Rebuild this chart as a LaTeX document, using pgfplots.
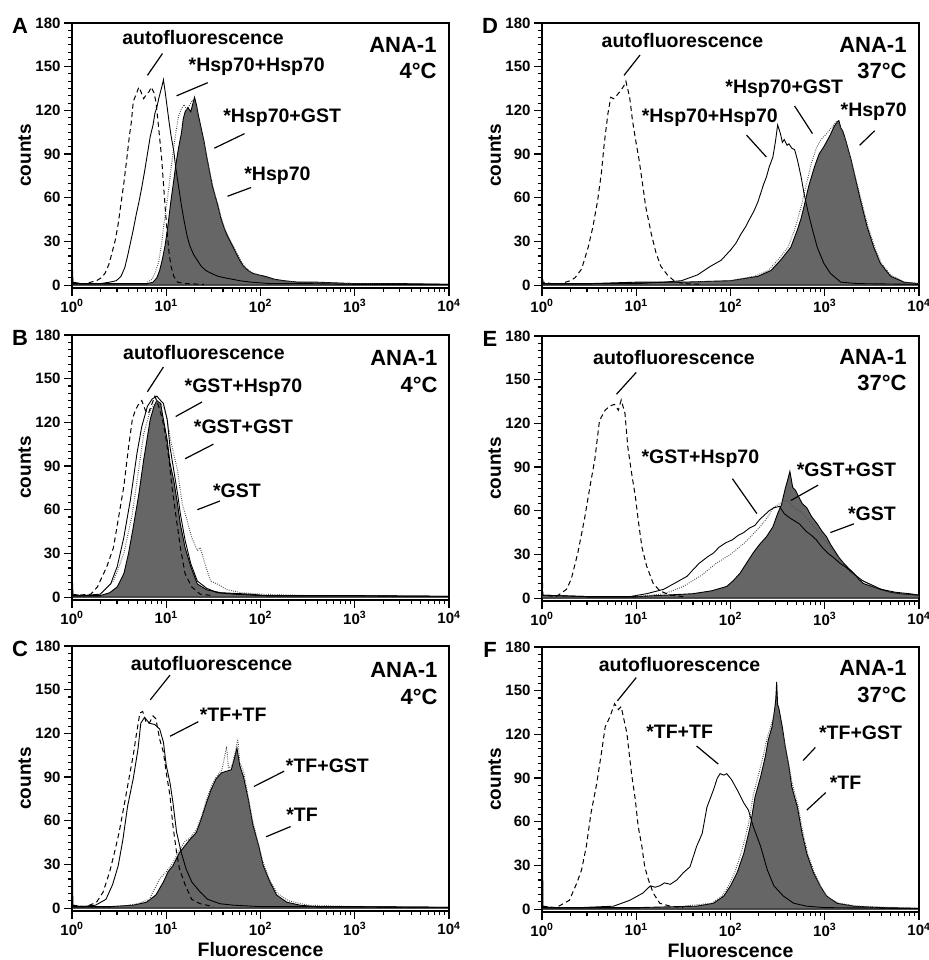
\documentclass[border=0pt]{standalone}
\usepackage{fontspec}
\setmainfont{Liberation Sans}
\usepackage{pgfplots}
\pgfplotsset{compat=1.18}
\definecolor{fillgray}{RGB}{102,102,102}
\newcommand{\fs}[1]{\fontsize{#1}{#1}\selectfont}

% x values are log10(fluorescence)
\pgfplotsset{
  facs/.style={
    scale only axis, width=377pt, height=265pt,
    xmin=0, xmax=4, ymin=-2, ymax=180, clip=false,
    axis line style={line width=1.3pt},
    tick align=outside, tick pos=left,
    xtick={0,1,2,3,4},
    xticklabels={10\textsuperscript{0},10\textsuperscript{1},10\textsuperscript{2},10\textsuperscript{3},10\textsuperscript{4}},
    minor xtick={0.301,0.477,0.602,0.699,0.778,0.845,0.903,0.954,
                 1.301,1.477,1.602,1.699,1.778,1.845,1.903,1.954,
                 2.301,2.477,2.602,2.699,2.778,2.845,2.903,2.954,
                 3.301,3.477,3.602,3.699,3.778,3.845,3.903,3.954},
    ytick={0,30,60,90,120,150,180},
    yticklabels={0,30,60,90,120,150,180},
    minor y tick num=5,
    major tick length=8pt, minor tick length=4.5pt,
    tick style={black, line width=1.1pt},
    ticklabel style={font=\bfseries\fs{15}},
    ylabel={counts},
    every axis y label/.style={at={(axis description cs:-0.125,0.5)}, rotate=90, anchor=center, font=\bfseries\fs{19}},
    every axis x label/.style={at={(axis description cs:0.5,-0.146)}, anchor=center, font=\bfseries\fs{19.5}},
  },
  auto/.style={black, line width=1pt, dash pattern=on 5pt off 3.5pt},
  comp/.style={black, line width=0.9pt},
  ctrl/.style={black!70, line width=1pt, dash pattern=on 0.8pt off 1.4pt},
  bind/.style={draw=black, line width=0.9pt, fill=fillgray},
}
\tikzset{
  lbl/.style={font=\bfseries\fs{19.5}, inner sep=0pt},
  cell/.style={font=\bfseries\fs{22}, inner sep=0pt, anchor=east},
  pan/.style={font=\bfseries\fs{22}, inner sep=0pt},
  lead/.style={black, line width=1.2pt},
}

\begin{document}
\begin{tikzpicture}
\useasboundingbox (0,0) rectangle (928pt,960pt);

% ---------------- A ----------------
\begin{axis}[facs, at={(72pt,937pt)}, anchor=north west]
\addplot[bind] coordinates {(0.00,1)(0.30,1)(0.60,1)(0.80,1)(0.86,2)(0.90,5)(0.93,10)(0.96,18)(0.99,28)(1.02,42)(1.05,58)(1.08,72)(1.10,82)(1.13,94)(1.16,104)(1.18,114)(1.20,119)(1.23,122)(1.26,119)(1.28,124)(1.30,129)(1.32,124)(1.34,117)(1.37,108)(1.40,99)(1.43,88)(1.46,78)(1.49,68)(1.52,61)(1.55,54)(1.58,46)(1.61,40)(1.64,35)(1.67,31)(1.71,26)(1.74,22)(1.78,17)(1.82,13)(1.87,10)(1.92,8)(1.98,7)(2.05,6)(2.15,4)(2.25,3)(2.40,2)(2.60,2)(2.80,1.5)(3.00,1)(3.50,1)(4.00,0.5)} \closedcycle;
\addplot[ctrl] coordinates {(0.80,2)(0.85,4)(0.88,8)(0.92,16)(0.95,28)(0.98,44)(1.01,58)(1.04,74)(1.07,90)(1.10,104)(1.13,116)(1.16,121)(1.19,124)(1.22,120)(1.25,124)(1.28,127)(1.31,124)(1.34,115)(1.37,106)(1.40,98)(1.43,88)(1.46,78)(1.49,69)(1.52,61)(1.55,55)(1.58,47)(1.61,41)(1.64,36)(1.67,32)(1.71,27)(1.75,22)(1.79,17)(1.84,12)(1.90,9)(1.97,7)(2.05,5)(2.20,3)(2.40,2)(3.00,1)(4.00,0.5)};
\addplot[comp] coordinates {(0.00,22)(0.01,2)(0.10,1)(0.20,1)(0.30,1)(0.40,2)(0.47,3)(0.52,6)(0.56,12)(0.59,20)(0.62,29)(0.65,38)(0.68,48)(0.71,57)(0.74,67)(0.77,78)(0.80,90)(0.83,102)(0.86,110)(0.88,118)(0.90,122)(0.92,128)(0.94,133)(0.96,138)(0.97,141)(0.99,132)(1.01,122)(1.03,112)(1.05,103)(1.08,92)(1.10,81)(1.13,68)(1.16,55)(1.19,44)(1.22,34)(1.25,27)(1.29,21)(1.33,17)(1.37,13)(1.42,10)(1.48,8)(1.55,6)(1.62,5)(1.70,4)(1.78,3)(1.90,2)(2.10,1)(2.50,1)(3.00,0.5)(4.00,0.5)};
\addplot[auto] coordinates {(0.00,2)(0.05,1)(0.10,1)(0.15,1)(0.20,2)(0.26,3)(0.31,5)(0.35,8)(0.39,14)(0.42,21)(0.46,31)(0.49,42)(0.52,56)(0.55,70)(0.58,86)(0.61,103)(0.63,112)(0.65,126)(0.68,131)(0.71,136)(0.73,133)(0.76,128)(0.79,131)(0.82,133)(0.84,136)(0.87,132)(0.89,126)(0.91,114)(0.93,101)(0.95,88)(0.97,70)(0.99,52)(1.01,36)(1.03,22)(1.05,13)(1.08,6)(1.12,2)(1.20,1)(1.40,0.5)};
\node[pan] at (axis description cs:-0.138,0.99) {A};
\node[lbl] at (axis cs:1.39,170) {autofluorescence};
\draw[lead] (axis cs:0.96,159) -- (axis cs:0.80,144);
\node[lbl] at (axis cs:1.96,150) {*Hsp70+Hsp70};
\draw[lead] (axis cs:1.44,139) -- (axis cs:1.11,130);
\node[lbl] at (axis cs:2.23,115) {*Hsp70+GST};
\draw[lead] (axis cs:1.83,104) -- (axis cs:1.51,94);
\node[lbl] at (axis cs:2.18,75) {*Hsp70};
\draw[lead] (axis cs:1.90,67) -- (axis cs:1.65,61);
\node[cell] at (axis cs:3.87,165) {ANA-1};
\node[cell] at (axis cs:3.87,147) {4°C};
\end{axis}

% ---------------- D ----------------
\begin{axis}[facs, at={(542pt,937pt)}, anchor=north west]
\addplot[bind] coordinates {(0.00,1)(0.50,1)(1.00,2)(1.50,2)(2.00,3)(2.29,6)(2.43,10)(2.53,17)(2.64,26)(2.71,38)(2.75,46)(2.78,54)(2.83,68)(2.89,81)(2.94,90)(2.99,95)(3.05,102)(3.10,109)(3.13,112)(3.15,113)(3.17,108)(3.19,106)(3.22,100)(3.25,93)(3.28,86)(3.33,72)(3.38,58)(3.45,40)(3.52,26)(3.59,15)(3.65,10)(3.70,6)(3.84,2)(4.00,1)} \closedcycle;
\addplot[ctrl] coordinates {(1.50,2)(2.00,3)(2.25,6)(2.40,10)(2.50,17)(2.61,26)(2.68,38)(2.75,54)(2.80,68)(2.86,84)(2.91,94)(2.96,100)(3.02,104)(3.07,108)(3.12,112)(3.15,110)(3.18,106)(3.22,99)(3.26,90)(3.30,80)(3.35,68)(3.40,55)(3.46,40)(3.53,26)(3.60,15)(3.70,7)(3.85,2)(4.00,1)};
\addplot[comp] coordinates {(0.00,1)(0.50,1)(1.00,1)(1.30,2)(1.48,3)(1.65,7)(1.79,13)(1.90,17)(2.00,24)(2.06,29)(2.11,35)(2.16,40)(2.20,45)(2.25,51)(2.29,57)(2.32,63)(2.35,69)(2.38,74)(2.41,81)(2.45,88)(2.48,100)(2.50,110)(2.53,104)(2.55,98)(2.57,100)(2.60,96)(2.62,97)(2.65,94)(2.68,93)(2.71,86)(2.75,74)(2.78,63)(2.82,51)(2.87,38)(2.92,26)(2.99,15)(3.06,8)(3.17,2)(3.35,1)(4.00,0.5)};
\addplot[auto] coordinates {(0.00,10)(0.01,2)(0.10,1)(0.20,1)(0.30,3)(0.35,5)(0.42,11)(0.49,26)(0.54,40)(0.59,58)(0.63,77)(0.66,97)(0.70,118)(0.73,129)(0.76,128)(0.79,130)(0.84,134)(0.87,137)(0.89,140)(0.93,129)(0.96,113)(1.00,97)(1.03,86)(1.07,68)(1.10,54)(1.16,35)(1.21,22)(1.26,13)(1.33,7)(1.40,3)(1.50,1)(1.70,0.5)};
\node[pan] at (axis description cs:-0.138,0.99) {D};
\node[lbl] at (axis cs:1.49,168) {autofluorescence};
\draw[lead] (axis cs:1.04,158) -- (axis cs:0.87,144);
\node[lbl] at (axis cs:2.57,134.6) {*Hsp70+GST};
\draw[lead] (axis cs:2.68,123) -- (axis cs:2.87,104);
\node[lbl] at (axis cs:1.78,115) {*Hsp70+Hsp70};
\draw[lead] (axis cs:2.17,103) -- (axis cs:2.38,88);
\node[lbl] at (axis cs:3.52,119) {*Hsp70};
\draw[lead] (axis cs:3.53,106) -- (axis cs:3.37,96);
\node[cell] at (axis cs:3.87,165) {ANA-1};
\node[cell] at (axis cs:3.87,147) {37°C};
\end{axis}

% ---------------- B ----------------
\begin{axis}[facs, at={(72pt,625pt)}, anchor=north west]
\addplot[bind] coordinates {(0.00,1)(0.30,1)(0.40,3)(0.48,7)(0.55,16)(0.60,30)(0.65,48)(0.71,71)(0.76,94)(0.80,110)(0.83,122)(0.87,131)(0.90,135)(0.94,133)(0.97,122)(1.01,108)(1.04,92)(1.08,80)(1.12,64)(1.15,50)(1.20,34)(1.26,21)(1.33,9)(1.43,5)(1.58,3)(1.89,2)(2.07,1)(2.50,1)(3.00,1)(4.00,0.5)} \closedcycle;
\addplot[ctrl] coordinates {(0.30,2)(0.44,11)(0.55,30)(0.64,57)(0.71,89)(0.76,112)(0.83,128)(0.90,135)(0.97,131)(1.01,122)(1.04,110)(1.08,98)(1.12,87)(1.17,64)(1.22,53)(1.27,41)(1.33,32)(1.36,34)(1.42,21)(1.47,11)(1.54,9)(1.65,5)(1.80,3)(2.00,2)(2.50,1)(4.00,0.5)};
\addplot[comp] coordinates {(0.00,20)(0.01,2)(0.10,1)(0.30,2)(0.41,9)(0.48,21)(0.55,41)(0.62,67)(0.69,99)(0.74,117)(0.80,131)(0.85,136)(0.90,138)(0.94,135)(0.97,133)(1.01,122)(1.04,103)(1.08,87)(1.12,71)(1.15,57)(1.20,39)(1.26,23)(1.33,11)(1.43,6)(1.54,3)(1.72,2)(2.00,1)(3.00,1)(4.00,0.5)};
\addplot[auto] coordinates {(0.00,1)(0.20,2)(0.27,7)(0.37,21)(0.44,34)(0.50,57)(0.55,76)(0.60,103)(0.64,122)(0.67,128)(0.71,133)(0.74,135)(0.78,128)(0.81,126)(0.85,133)(0.88,138)(0.92,131)(0.96,122)(0.99,112)(1.03,94)(1.06,76)(1.10,57)(1.15,34)(1.20,16)(1.27,7)(1.36,2)(1.50,1)};
\node[pan] at (axis description cs:-0.138,0.99) {B};
\node[lbl] at (axis cs:1.40,168) {autofluorescence};
\draw[lead] (axis cs:0.97,158) -- (axis cs:0.80,141);
\node[lbl] at (axis cs:1.82,143.5) {*GST+Hsp70};
\draw[lead] (axis cs:1.38,134) -- (axis cs:1.10,124);
\node[lbl] at (axis cs:1.82,117) {*GST+GST};
\draw[lead] (axis cs:1.50,105) -- (axis cs:1.20,95);
\node[lbl] at (axis cs:1.75,73) {*GST};
\draw[lead] (axis cs:1.57,66) -- (axis cs:1.33,60);
\node[cell] at (axis cs:3.88,164) {ANA-1};
\node[cell] at (axis cs:3.88,146) {4°C};
\end{axis}

% ---------------- E ----------------
\begin{axis}[facs, at={(542pt,624pt)}, anchor=north west]
\addplot[bind] coordinates {(0.00,2)(0.50,1)(1.00,1)(1.30,2)(1.60,3)(1.80,5)(1.96,8)(2.03,12)(2.10,17)(2.17,24)(2.24,31)(2.31,37)(2.38,42)(2.45,49)(2.50,58)(2.54,64)(2.58,75)(2.61,82)(2.63,87)(2.66,76)(2.69,74)(2.72,70)(2.76,65)(2.81,62)(2.86,56)(2.92,51)(2.97,46)(3.02,42)(3.06,37)(3.10,33)(3.15,28)(3.20,24)(3.26,20)(3.31,17)(3.36,13)(3.41,10)(3.50,8)(3.59,6)(3.70,4)(3.80,3)(4.00,2)} \closedcycle;
\addplot[ctrl] coordinates {(1.00,1)(1.30,3)(1.50,8)(1.70,16)(1.85,24)(2.00,30)(2.15,38)(2.30,48)(2.40,56)(2.45,62)(2.50,64)(2.55,66)(2.60,67)(2.65,64)(2.70,61)(2.75,59)(2.85,52)(2.95,44)(3.05,36)(3.15,27)(3.25,19)(3.35,14)(3.50,8)(3.70,4)(4.00,2)};
\addplot[comp] coordinates {(0.00,2)(0.50,1)(0.93,1)(1.11,3)(1.29,6)(1.43,11)(1.54,15)(1.61,20)(1.67,24)(1.75,28)(1.82,31)(1.88,35)(1.95,38)(2.02,40)(2.08,43)(2.14,45)(2.20,48)(2.26,50)(2.31,54)(2.36,57)(2.41,60)(2.46,62)(2.52,63)(2.57,58)(2.63,55)(2.68,53)(2.73,51)(2.80,46)(2.86,43)(2.91,40)(2.97,35)(3.03,31)(3.09,28)(3.16,24)(3.23,21)(3.30,17)(3.40,12)(3.50,9)(3.60,6)(3.75,4)(3.90,3)(4.00,2)};
\addplot[auto] coordinates {(0.00,22)(0.01,2)(0.15,1)(0.26,6)(0.31,13)(0.38,31)(0.45,54)(0.51,77)(0.56,95)(0.61,122)(0.67,129)(0.72,132)(0.77,133)(0.81,129)(0.84,136)(0.88,127)(0.91,104)(0.95,86)(0.99,70)(1.02,54)(1.06,35)(1.11,22)(1.18,10)(1.25,5)(1.36,2)(1.50,1)};
\node[pan] at (axis description cs:-0.138,0.99) {E};
\node[lbl] at (axis cs:1.40,165.5) {autofluorescence};
\draw[lead] (axis cs:1.00,155) -- (axis cs:0.79,140);
\node[lbl] at (axis cs:1.68,96) {*GST+Hsp70};
\draw[lead] (axis cs:2.02,82) -- (axis cs:2.28,58);
\node[lbl] at (axis cs:3.23,88) {*GST+GST};
\draw[lead] (axis cs:2.93,77.6) -- (axis cs:2.64,67);
\node[lbl] at (axis cs:3.50,58) {*GST};
\draw[lead] (axis cs:3.31,51) -- (axis cs:3.06,45);
\node[cell] at (axis cs:3.87,165.5) {ANA-1};
\node[cell] at (axis cs:3.87,147.6) {37°C};
\end{axis}

% ---------------- C ----------------
\begin{axis}[facs, at={(72pt,314pt)}, anchor=north west, xlabel={Fluorescence}]
\addplot[bind] coordinates {(0.00,1)(0.40,1)(0.65,2)(0.79,4)(0.89,9)(0.97,18)(1.02,25)(1.07,29)(1.14,38)(1.20,43)(1.25,47)(1.32,52)(1.37,61)(1.43,73)(1.48,82)(1.53,89)(1.59,93)(1.64,94)(1.69,95)(1.72,102)(1.75,110)(1.78,98)(1.82,90)(1.87,75)(1.92,57)(1.98,43)(2.03,29)(2.10,18)(2.17,9)(2.28,4)(2.42,2)(2.60,1)(3.00,1)(4.00,0.5)} \closedcycle;
\addplot[ctrl] coordinates {(0.50,1)(0.70,3)(0.82,6)(0.93,20)(1.00,25)(1.07,31)(1.14,40)(1.20,46)(1.25,48)(1.32,54)(1.37,62)(1.43,75)(1.48,84)(1.53,90)(1.59,95)(1.62,104)(1.64,111)(1.66,96)(1.70,98)(1.74,110)(1.76,116)(1.78,100)(1.82,94)(1.86,80)(1.91,62)(1.97,46)(2.03,31)(2.10,19)(2.18,10)(2.30,5)(2.50,2)(3.00,1)(4.00,0.5)};
\addplot[comp] coordinates {(0.00,43)(0.01,2)(0.10,1)(0.25,2)(0.36,6)(0.43,16)(0.49,29)(0.54,47)(0.59,70)(0.65,89)(0.70,109)(0.73,127)(0.77,131)(0.82,127)(0.88,126)(0.93,123)(0.97,114)(1.00,98)(1.04,86)(1.07,73)(1.11,52)(1.16,38)(1.21,27)(1.27,18)(1.36,11)(1.44,6)(1.57,3)(1.71,2)(2.00,1)(3.00,1)(4.00,0.5)};
\addplot[auto] coordinates {(0.00,2)(0.15,1)(0.26,4)(0.33,11)(0.40,25)(0.45,38)(0.50,52)(0.56,73)(0.61,91)(0.65,105)(0.68,118)(0.72,134)(0.75,135)(0.79,127)(0.82,127)(0.86,132)(0.89,130)(0.93,116)(0.97,107)(1.00,93)(1.04,77)(1.07,57)(1.11,38)(1.14,27)(1.20,16)(1.27,6)(1.36,3)(1.50,1)};
\node[pan] at (axis description cs:-0.138,0.99) {C};
\node[lbl] at (axis cs:1.48,168) {autofluorescence};
\draw[lead] (axis cs:1.04,160) -- (axis cs:0.83,143);
\node[lbl] at (axis cs:1.71,133) {*TF+TF};
\draw[lead] (axis cs:1.34,128) -- (axis cs:1.04,118);
\node[lbl] at (axis cs:2.71,98) {*TF+GST};
\draw[lead] (axis cs:2.25,94) -- (axis cs:1.93,83.5);
\node[lbl] at (axis cs:2.44,64) {*TF};
\draw[lead] (axis cs:2.32,56) -- (axis cs:2.06,49);
\node[cell] at (axis cs:3.88,163.5) {ANA-1};
\node[cell] at (axis cs:3.88,145) {4°C};
\end{axis}

% ---------------- F ----------------
\begin{axis}[facs, at={(542pt,313pt)}, anchor=north west, xlabel={Fluorescence}]
\addplot[bind] coordinates {(0.00,1)(0.50,1)(1.00,1)(1.64,2)(1.82,4)(1.93,9)(2.00,16)(2.07,25)(2.14,38)(2.21,57)(2.26,77)(2.32,91)(2.37,105)(2.40,116)(2.44,125)(2.47,138)(2.48,144)(2.49,156)(2.50,140)(2.51,139)(2.55,125)(2.58,112)(2.62,98)(2.65,84)(2.71,70)(2.76,52)(2.81,38)(2.88,25)(2.95,16)(3.02,9)(3.13,4)(3.31,2)(3.60,1)(4.00,0.5)} \closedcycle;
\addplot[ctrl] coordinates {(1.50,2)(1.80,4)(1.91,9)(1.98,16)(2.05,26)(2.12,40)(2.19,58)(2.24,78)(2.30,93)(2.35,106)(2.39,118)(2.43,126)(2.47,135)(2.50,132)(2.54,124)(2.58,112)(2.62,98)(2.66,85)(2.72,70)(2.77,52)(2.82,38)(2.89,25)(2.96,15)(3.03,8)(3.15,4)(3.35,2)(4.00,0.5)};
\addplot[comp] coordinates {(0.00,112)(0.01,2)(0.10,1)(0.40,1)(0.76,2)(0.93,6)(1.07,11)(1.15,16)(1.20,15)(1.25,16)(1.30,18)(1.36,17)(1.43,20)(1.50,25)(1.57,29)(1.64,43)(1.70,52)(1.75,70)(1.82,82)(1.86,90)(1.89,93)(1.93,92)(1.96,93)(2.01,89)(2.07,82)(2.14,73)(2.19,68)(2.24,57)(2.32,43)(2.39,27)(2.46,16)(2.56,9)(2.67,4)(2.81,2)(3.00,1)(4.00,0.5)};
\addplot[auto] coordinates {(0.00,2)(0.15,1)(0.29,6)(0.37,18)(0.42,27)(0.47,43)(0.52,66)(0.58,86)(0.63,107)(0.67,125)(0.72,132)(0.77,141)(0.81,137)(0.84,139)(0.90,121)(0.95,93)(0.99,75)(1.02,57)(1.06,43)(1.09,29)(1.13,20)(1.18,11)(1.25,4)(1.36,2)(1.50,1)};
\node[pan] at (axis description cs:-0.138,0.99) {F};
\node[lbl] at (axis cs:1.46,168) {autofluorescence};
\draw[lead] (axis cs:1.00,159) -- (axis cs:0.80,143);
\node[lbl] at (axis cs:1.46,121.6) {*TF+TF};
\draw[lead] (axis cs:1.64,112) -- (axis cs:1.87,99.6);
\node[lbl] at (axis cs:3.38,121) {*TF+GST};
\draw[lead] (axis cs:2.90,111) -- (axis cs:2.77,102);
\node[lbl] at (axis cs:3.22,87) {*TF};
\draw[lead] (axis cs:3.01,80) -- (axis cs:2.81,68);
\node[cell] at (axis cs:3.87,165.5) {ANA-1};
\node[cell] at (axis cs:3.87,147) {37°C};
\end{axis}
\end{tikzpicture}
\end{document}
